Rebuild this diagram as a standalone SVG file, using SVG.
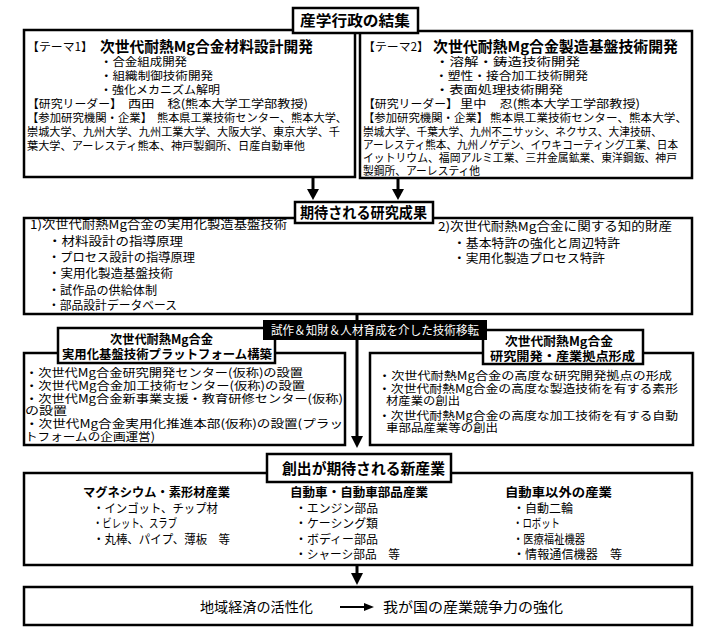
<svg xmlns="http://www.w3.org/2000/svg" width="705" height="631" viewBox="0 0 705 631">
<style>
.bx{fill:#fff;stroke:#000;stroke-width:2.5}
.tb{fill:#fff;stroke:#000;stroke-width:2.5}
text{font-family:"Noto Sans CJK JP","Noto Sans",sans-serif;font-size:11.5px;fill:#000}
.h{font-weight:bold;font-size:15px}
.hs{font-weight:bold;font-size:12.5px}
.m{font-size:12px}
.l{font-size:14px}
.w{fill:#fff;font-size:12px}
.ln{stroke:#000;stroke-width:3;fill:none}
</style>
<rect width="705" height="631" fill="#fff"/>

<g id="connectors">
  <line class="ln" x1="313" y1="177" x2="313" y2="190"/>
  <polygon points="307,189 319,189 313,200"/>
  <line class="ln" x1="398" y1="178" x2="398" y2="190"/>
  <polygon points="392,189 404,189 398,200"/>
  <line class="ln" x1="357" y1="314" x2="357" y2="438"/>
  <polygon points="351,436 363,436 357,448"/>
  <line class="ln" x1="357" y1="565" x2="357" y2="575"/>
  <polygon points="351,573 363,573 357,585"/>
</g>

<g id="theme1">
  <rect class="bx" x="24" y="30" width="331" height="147"/>
  <text x="27" y="51" font-size="12.5" textLength="66" lengthAdjust="spacingAndGlyphs">【テーマ1】</text>
  <text class="h" x="100" y="51.5" textLength="213" lengthAdjust="spacingAndGlyphs">次世代耐熱Mg合金材料設計開発</text>
  <text x="100" y="65.5" textLength="87" lengthAdjust="spacingAndGlyphs">・合金組成開発</text>
  <text x="100" y="79.5" textLength="113" lengthAdjust="spacingAndGlyphs">・組織制御技術開発</text>
  <text x="100" y="93.5" textLength="120" lengthAdjust="spacingAndGlyphs">・強化メカニズム解明</text>
  <text x="27" y="107.5" textLength="95" lengthAdjust="spacingAndGlyphs">【研究リーダー】</text>
  <text x="128" y="107.5" textLength="180" lengthAdjust="spacingAndGlyphs">西田　稔(熊本大学工学部教授)</text>
  <text x="27" y="121.5" textLength="125" lengthAdjust="spacingAndGlyphs">【参加研究機関・企業】</text>
  <text x="157" y="121.5" textLength="190" lengthAdjust="spacingAndGlyphs">熊本県工業技術センター、熊本大学、</text>
  <text x="27" y="135.5" textLength="313" lengthAdjust="spacingAndGlyphs">崇城大学、九州大学、九州工業大学、大阪大学、東京大学、千</text>
  <text x="27" y="149.5" textLength="278" lengthAdjust="spacingAndGlyphs">葉大学、アーレスティ熊本、神戸製鋼所、日産自動車他</text>
</g>

<g id="theme2">
  <rect class="bx" x="360" y="31" width="332" height="147"/>
  <text x="363" y="51" font-size="12.5" textLength="66" lengthAdjust="spacingAndGlyphs">【テーマ2】</text>
  <text class="h" x="433" y="51.5" textLength="245" lengthAdjust="spacingAndGlyphs">次世代耐熱Mg合金製造基盤技術開発</text>
  <text x="435" y="65.5" textLength="145" lengthAdjust="spacingAndGlyphs">・溶解・鋳造技術開発</text>
  <text x="435" y="79.5" textLength="153" lengthAdjust="spacingAndGlyphs">・塑性・接合加工技術開発</text>
  <text x="435" y="93.5" textLength="128" lengthAdjust="spacingAndGlyphs">・表面処理技術開発</text>
  <text x="363" y="107.5" textLength="95" lengthAdjust="spacingAndGlyphs">【研究リーダー】</text>
  <text x="460" y="107.5" textLength="180" lengthAdjust="spacingAndGlyphs">里中　忍(熊本大学工学部教授)</text>
  <text x="363" y="121.5" textLength="125" lengthAdjust="spacingAndGlyphs">【参加研究機関・企業】</text>
  <text x="490" y="121.5" textLength="197" lengthAdjust="spacingAndGlyphs">熊本県工業技術センター、熊本大学、</text>
  <text x="363" y="135.5" textLength="299" lengthAdjust="spacingAndGlyphs">崇城大学、千葉大学、九州不二サッシ、ネクサス、大津技研、</text>
  <text x="363" y="148.5" textLength="315" lengthAdjust="spacingAndGlyphs">アーレスティ熊本、九州ノゲデン、イワキコーティング工業、日本</text>
  <text x="363" y="161.5" textLength="314" lengthAdjust="spacingAndGlyphs">イットリウム、福岡アルミ工業、三井金属鉱業、東洋鋼鈑、神戸</text>
  <text x="363" y="174.5" textLength="117" lengthAdjust="spacingAndGlyphs">製鋼所、アーレスティ他</text>
</g>

<g id="title-top">
  <rect class="tb" x="293" y="8" width="125" height="25"/>
  <text class="h" x="300" y="26" font-size="16" textLength="110" lengthAdjust="spacingAndGlyphs">産学行政の結集</text>
</g>

<g id="results">
  <rect class="bx" x="24" y="218" width="668" height="96"/>
  <text class="m" x="30" y="228.5" textLength="257" lengthAdjust="spacingAndGlyphs">1)次世代耐熱Mg合金の実用化製造基盤技術</text>
  <text class="m" x="48" y="245.5" textLength="135" lengthAdjust="spacingAndGlyphs">・材料設計の指導原理</text>
  <text class="m" x="48" y="261.5" textLength="147" lengthAdjust="spacingAndGlyphs">・プロセス設計の指導原理</text>
  <text class="m" x="48" y="278" textLength="125" lengthAdjust="spacingAndGlyphs">・実用化製造基盤技術</text>
  <text class="m" x="48" y="294.5" textLength="109" lengthAdjust="spacingAndGlyphs">・試作品の供給体制</text>
  <text class="m" x="48" y="310" textLength="129" lengthAdjust="spacingAndGlyphs">・部品設計データベース</text>
  <text class="m" x="438" y="231" textLength="234" lengthAdjust="spacingAndGlyphs">2)次世代耐熱Mg合金に関する知的財産</text>
  <text class="m" x="453" y="247.5" textLength="167" lengthAdjust="spacingAndGlyphs">・基本特許の強化と周辺特許</text>
  <text class="m" x="453" y="262.5" textLength="152" lengthAdjust="spacingAndGlyphs">・実用化製造プロセス特許</text>
  <rect class="tb" x="295" y="202" width="138" height="21"/>
  <text class="h" x="300" y="218" textLength="127" lengthAdjust="spacingAndGlyphs">期待される研究成果</text>
</g>

<g id="platform-left">
  <rect class="bx" x="24" y="353" width="321" height="92"/>
  <text x="25" y="376.5" textLength="278" lengthAdjust="spacingAndGlyphs">・次世代Mg合金研究開発センター(仮称)の設置</text>
  <text x="25" y="389.5" textLength="280" lengthAdjust="spacingAndGlyphs">・次世代Mg合金加工技術センター(仮称)の設置</text>
  <text x="25" y="402.5" textLength="318" lengthAdjust="spacingAndGlyphs">・次世代Mg合金新事業支援・教育研修センター(仮称)</text>
  <text x="25" y="414.5" textLength="42" lengthAdjust="spacingAndGlyphs">の設置</text>
  <text x="25" y="427.5" textLength="318" lengthAdjust="spacingAndGlyphs">・次世代Mg合金実用化推進本部(仮称)の設置(プラッ</text>
  <text x="25" y="440.5" textLength="130" lengthAdjust="spacingAndGlyphs">トフォームの企画運営)</text>
  <rect class="tb" x="58" y="328" width="217" height="35"/>
  <text class="hs" x="110" y="344" textLength="103" lengthAdjust="spacingAndGlyphs">次世代耐熱Mg合金</text>
  <text class="hs" x="62" y="359" textLength="210" lengthAdjust="spacingAndGlyphs">実用化基盤技術プラットフォーム構築</text>
</g>

<g id="platform-right">
  <rect class="bx" x="370" y="353" width="323" height="92"/>
  <text x="378" y="379.5" textLength="294" lengthAdjust="spacingAndGlyphs">・次世代耐熱Mg合金の高度な研究開発拠点の形成</text>
  <text x="378" y="392.5" textLength="300" lengthAdjust="spacingAndGlyphs">・次世代耐熱Mg合金の高度な製造技術を有する素形</text>
  <text x="386" y="404.5" textLength="74" lengthAdjust="spacingAndGlyphs">材産業の創出</text>
  <text x="378" y="419.5" textLength="300" lengthAdjust="spacingAndGlyphs">・次世代耐熱Mg合金の高度な加工技術を有する自動</text>
  <text x="386" y="431.5" textLength="112" lengthAdjust="spacingAndGlyphs">車部品産業等の創出</text>
  <rect class="tb" x="483" y="330" width="160" height="34"/>
  <text class="hs" x="505" y="346" textLength="108" lengthAdjust="spacingAndGlyphs">次世代耐熱Mg合金</text>
  <text class="hs" x="490" y="360.5" textLength="145" lengthAdjust="spacingAndGlyphs">研究開発・産業拠点形成</text>
</g>

<g id="transfer-label">
  <rect x="263" y="320" width="224" height="20" fill="#000"/>
  <text class="w" x="271" y="334.5" textLength="208" lengthAdjust="spacingAndGlyphs">試作＆知財＆人材育成を介した技術移転</text>
</g>

<g id="industries">
  <rect class="bx" x="24" y="473" width="668" height="92"/>
  <text class="hs" x="83" y="496.5" textLength="147" lengthAdjust="spacingAndGlyphs">マグネシウム・素形材産業</text>
  <text class="m" x="93" y="512.5" textLength="125" lengthAdjust="spacingAndGlyphs">・インゴット、チップ材</text>
  <text class="m" x="93" y="527.5" textLength="84" lengthAdjust="spacingAndGlyphs">・ビレット、スラブ</text>
  <text class="m" x="93" y="543.5" textLength="137" lengthAdjust="spacingAndGlyphs">・丸棒、パイプ、薄板　等</text>
  <text class="hs" x="290" y="496.5" textLength="138" lengthAdjust="spacingAndGlyphs">自動車・自動車部品産業</text>
  <text class="m" x="295" y="512.5" textLength="83" lengthAdjust="spacingAndGlyphs">・エンジン部品</text>
  <text class="m" x="295" y="527.5" textLength="83" lengthAdjust="spacingAndGlyphs">・ケーシング類</text>
  <text class="m" x="295" y="543.5" textLength="83" lengthAdjust="spacingAndGlyphs">・ボディー部品</text>
  <text class="m" x="295" y="559" textLength="105" lengthAdjust="spacingAndGlyphs">・シャーシ部品　等</text>
  <text class="hs" x="505" y="496.5" textLength="107" lengthAdjust="spacingAndGlyphs">自動車以外の産業</text>
  <text class="m" x="513" y="512.5" textLength="60" lengthAdjust="spacingAndGlyphs">・自動二輪</text>
  <text class="m" x="513" y="527.5" textLength="47" lengthAdjust="spacingAndGlyphs">・ロボット</text>
  <text class="m" x="513" y="543.5" textLength="72" lengthAdjust="spacingAndGlyphs">・医療福祉機器</text>
  <text class="m" x="513" y="559" textLength="109" lengthAdjust="spacingAndGlyphs">・情報通信機器　等</text>
  <rect class="tb" x="267" y="454" width="184" height="28"/>
  <text class="h" x="282" y="474" textLength="163" lengthAdjust="spacingAndGlyphs">創出が期待される新産業</text>
</g>

<g id="outcome">
  <rect class="bx" x="24" y="587" width="668" height="38"/>
  <text class="l" x="200" y="612" textLength="113" lengthAdjust="spacingAndGlyphs">地域経済の活性化</text>
  <text class="l" x="383" y="612" textLength="180" lengthAdjust="spacingAndGlyphs">我が国の産業競争力の強化</text>
</g>

<g id="outcome-arrow">
  <line x1="340" y1="607" x2="366" y2="607" stroke="#000" stroke-width="2"/>
  <polygon points="364,603 374,607 364,611"/>
</g>
</svg>
